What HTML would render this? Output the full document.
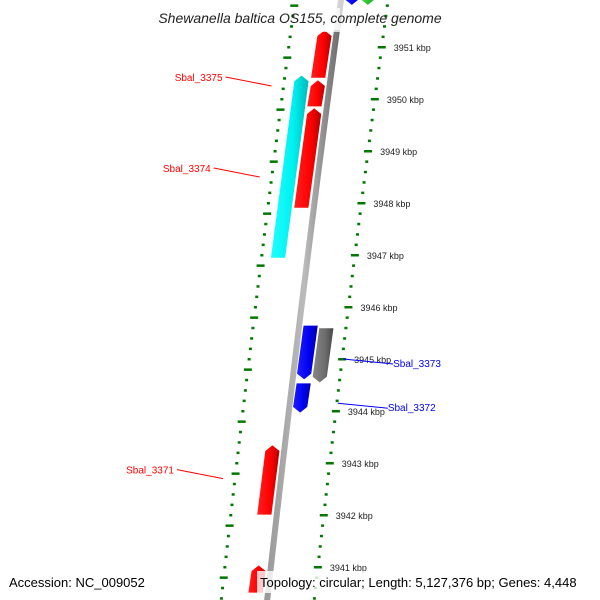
<!DOCTYPE html>
<html><head><meta charset="utf-8"><style>
body{margin:0;background:#fff}
svg{display:block;font-family:"Liberation Sans","DejaVu Sans",sans-serif}
</style></head><body>
<svg id="map" width="600" height="600" viewBox="0 0 600 600" xmlns="http://www.w3.org/2000/svg">
<defs>
<linearGradient id="gRed" x1="0" x2="1"><stop offset="0" stop-color="#ff2020"/><stop offset="0.6" stop-color="#ff0000"/><stop offset="1" stop-color="#b00000"/></linearGradient>
<linearGradient id="gCyan" x1="0" x2="1"><stop offset="0" stop-color="#20ffff"/><stop offset="0.6" stop-color="#00f0f0"/><stop offset="1" stop-color="#00b8b8"/></linearGradient>
<linearGradient id="gBlue" x1="0" x2="1"><stop offset="0" stop-color="#2020ff"/><stop offset="0.6" stop-color="#0000f0"/><stop offset="1" stop-color="#0000a0"/></linearGradient>
<linearGradient id="gGray" x1="0" x2="1"><stop offset="0" stop-color="#888"/><stop offset="0.6" stop-color="#6c6c6c"/><stop offset="1" stop-color="#444"/></linearGradient>
<linearGradient id="gGreen" x1="0" x2="1"><stop offset="0" stop-color="#40e040"/><stop offset="1" stop-color="#20a020"/></linearGradient>
<linearGradient id="gBack" x1="0" x2="1"><stop offset="0" stop-color="#999"/><stop offset="0.5" stop-color="#bbb"/><stop offset="1" stop-color="#666"/></linearGradient>
</defs>
<g id="ticks"></g>
<g id="backbone"></g>
<g id="genes"></g>
<g id="labels"></g>
<text x="300" y="23" text-anchor="middle" font-size="14" font-style="italic" fill="#222">Shewanella baltica OS155, complete genome</text>
<text x="9" y="587" font-size="13" fill="#000">Accession: NC_009052</text>
<rect x="257" y="571" width="338" height="22" fill="#fff" opacity="0.8"/>
<text x="260" y="587" font-size="13" fill="#000">Topology: circular; Length: 5,127,376 bp; Genes: 4,448</text>
</svg>
<script>
// data
const kbpTicks = [3951,3950,3949,3948,3947,3946,3945,3944,3943,3942,3941,3940];
const geneStarts = [3951.33, 3950.37, 3949.83, 3950.46, 3945.65, 3944.54, 3945.60, 3943.35, 3941.04, 3951.95, 3951.95];
const geneEnds   = [3950.40, 3949.85, 3947.90, 3946.94, 3944.60, 3943.96, 3944.54, 3942.00, 3940.50, 3951.80, 3951.80];
const geneStrand = [-1,-1,-1,-1, 1,1,1, -1, -1, 1, 1];
const geneSlot   = [0,0,0,1, 0,0,1, 0, 0, 0, 1];
const geneColor  = ['gRed','gRed','gRed','gCyan','gBlue','gBlue','gGray','gRed','gRed','gBlue','gGreen'];
const labelNames = ['Sbal_3375','Sbal_3374','Sbal_3371','Sbal_3373','Sbal_3372'];
const labelKbp   = [3950.25, 3948.5, 3942.7, 3945.0, 3944.15];
const labelSide  = [-1,-1,-1,1,1];

const NS='http://www.w3.org/2000/svg';
function yOf(k){return 47+(3951-k)*52;}
function bx(y){return 341-0.135*y+0.00002*y*y;}
function mk(t,a,p){const e=document.createElementNS(NS,t);for(const k in a)e.setAttribute(k,a[k]);p.appendChild(e);return e;}
const T=document.getElementById('ticks'),B=document.getElementById('backbone'),G=document.getElementById('genes'),L=document.getElementById('labels');

let pts=[];for(let y=-10;y<=610;y+=10)pts.push([bx(y),y]);
const bb=mk('polyline',{points:pts.map(p=>p.join(',')).join(' '),fill:'none',stroke:'url(#gBack)','stroke-width':6},B);


mk('rect',{x:320,y:0,width:40,height:30,fill:'#fff',opacity:0.7},B);

for(let k=3952;k>=3940;k-=0.2){
  const kk=Math.round(k*10)/10;const y=yOf(kk);if(y<-5||y>605)continue;
  const major=Math.abs(kk-Math.round(kk))<0.01;
  const ox=bx(y)+47, ix=bx(y)-46;
  const d1=mk('rect',{x:major?ox-4:ox-1.5,y:y-1,width:major?8:3,height:2.5,fill:'#070'},T);
  
  
  const innerMajor=Math.abs(kk-Math.round(kk)-0.8)<0.01||Math.abs(kk-Math.round(kk)+0.2)<0.01;
  const d2=mk('rect',{x:innerMajor?ix-4:ix-1.5,y:y-1,width:innerMajor?8:3,height:2.5,fill:'#070'},T);
  
  
}
kbpTicks.forEach(k=>{const y=yOf(k);const t=mk('text',{x:bx(y)+59,y:y+4,'font-size':9,fill:'#222'},T);t.textContent=k+' kbp';
  
  });

geneStarts.forEach((s,i)=>{
  const y1=yOf(s),y2=yOf(geneEnds[i]);const st=geneStrand[i];
  const off=st<0?(geneSlot[i]==0?-20:-37):(geneSlot[i]==0?4:20);const w=st<0&&geneSlot[i]==0?15:15;
  const a=bx(y1)+off,b=bx(y2)+off;let p;
  if(st<0){p=[[a+w/2,y1],[a+w,y1+6],[b+w,y2],[b,y2],[a,y1+6]];}
  else{p=[[a,y1],[a+w,y1],[b+w,y2-6],[b+w/2,y2],[b,y2-6]];}
  const g=mk('polygon',{points:p.map(q=>q.join(',')).join(' '),fill:'url(#'+geneColor[i]+')',stroke:'#fff','stroke-width':0.8},G);
  
  
});
mk('rect',{x:300,y:8,width:40,height:24,fill:'#fff',opacity:0.75},G);

labelNames.forEach((n,i)=>{
  const y=yOf(labelKbp[i]);
  if(labelSide[i]<0){
    const x0=bx(y)-58;const ln=mk('line',{x1:x0-46,y1:y-9,x2:x0,y2:y,stroke:'red','stroke-width':1},L);
    
    
    const t=mk('text',{x:x0-49,y:y-5,'font-size':10,fill:'red','text-anchor':'end'},L);t.textContent=n;
    
    
  }else{
    const x0=bx(y)+48;const ln=mk('line',{x1:x0,y1:y,x2:x0+50,y2:y+5,stroke:'blue','stroke-width':1},L);
    
    
    const t=mk('text',{x:x0+50,y:y+8,'font-size':10,fill:'blue'},L);t.textContent=n;
    
    
  }
});
</script>
</body></html>
